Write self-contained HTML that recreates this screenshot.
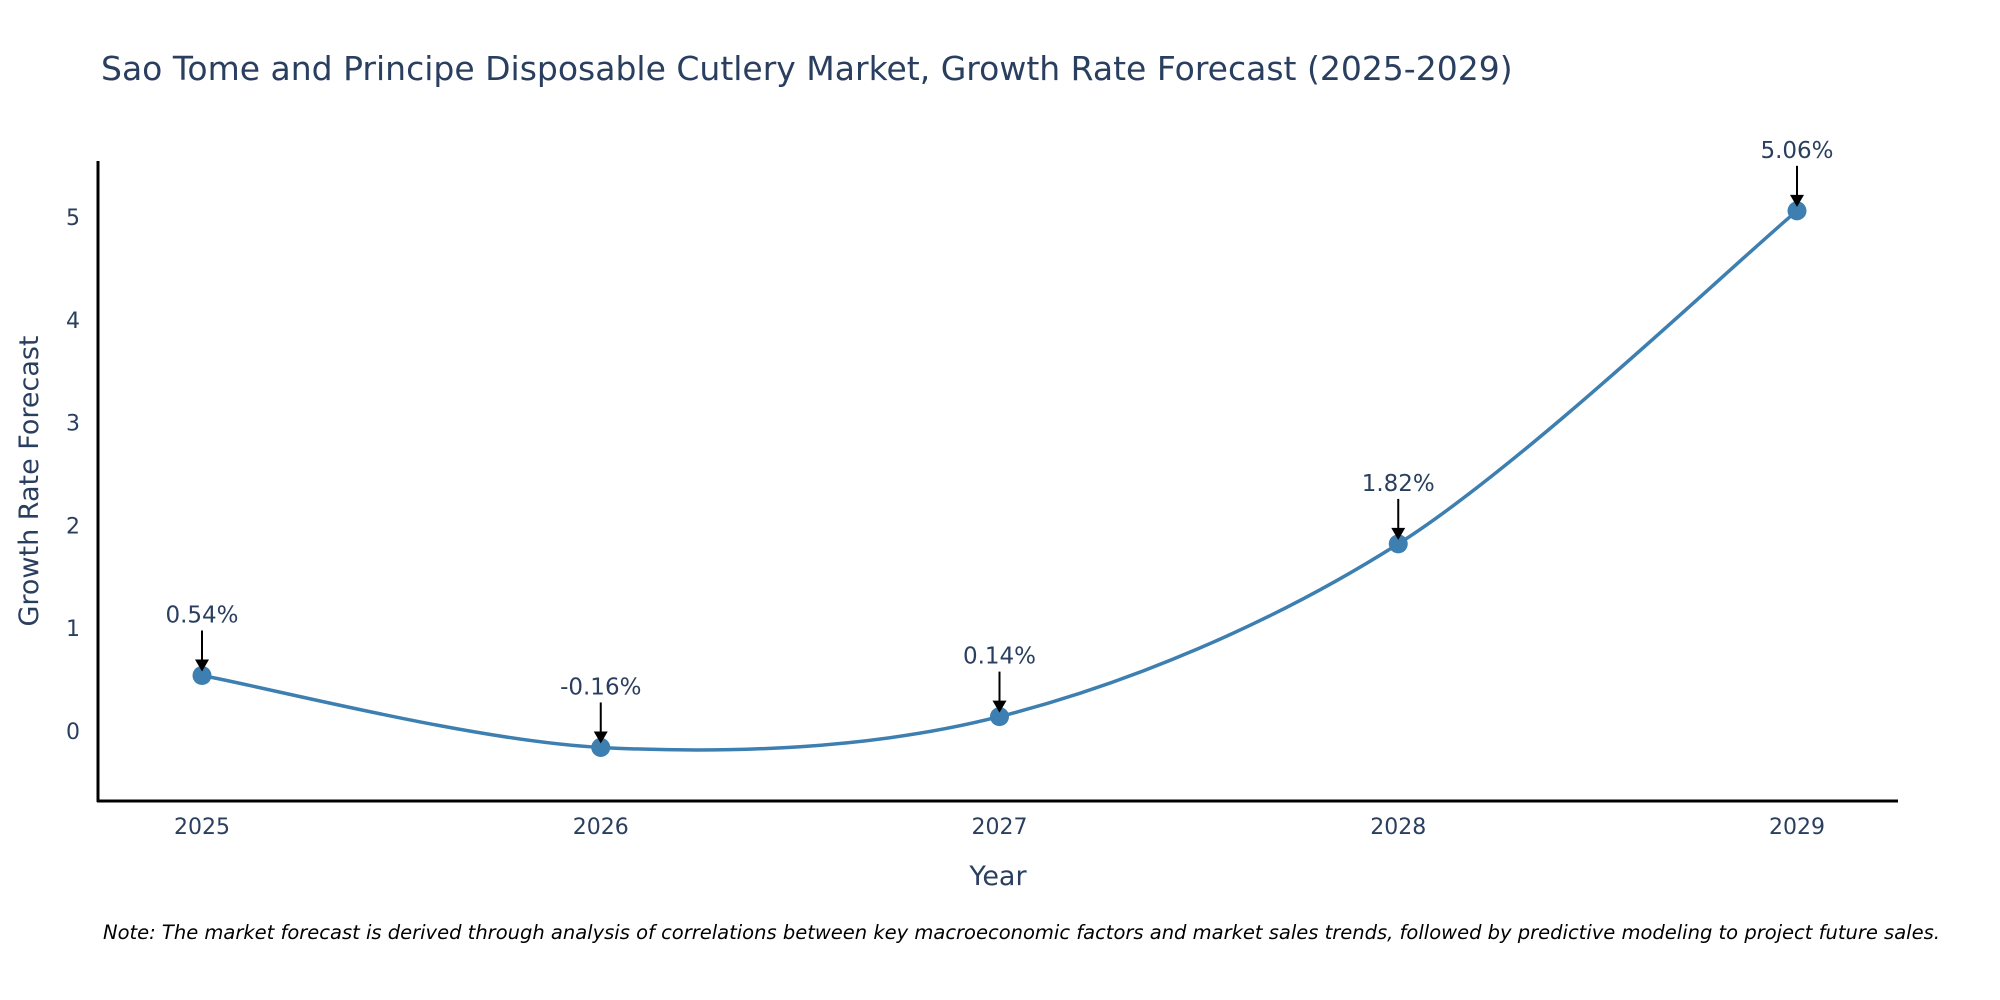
<!DOCTYPE html>
<html><head><meta charset="utf-8"><style>
html,body{margin:0;padding:0;background:#fff;}
svg{display:block;font-family:"DejaVu Sans","Liberation Sans",sans-serif;}
</style></head><body>
<svg id="chart" width="2000" height="1000" viewBox="0 0 2000 1000">
<text x="101" y="80" font-size="33" fill="#2a3f5f">Sao Tome and Principe Disposable Cutlery Market, Growth Rate Forecast (2025-2029)</text>
<g id="yticks"></g>
<g id="xticks"></g>
<line x1="98" y1="161" x2="98" y2="802" stroke="#000" stroke-width="3"/>
<line x1="97" y1="801" x2="1898" y2="801" stroke="#000" stroke-width="3"/>
<path id="line" fill="none" stroke="#3d7fb0" stroke-width="3.5"/>
<g id="points"></g>
<g id="annos"></g>
<text x="998" y="885" font-size="27" fill="#2a3f5f" text-anchor="middle">Year</text>
<text transform="translate(38,481) rotate(-90)" font-size="27" fill="#2a3f5f" text-anchor="middle">Growth Rate Forecast</text>
<text x="103" y="939" font-size="19.5" font-style="italic" fill="#000">Note: The market forecast is derived through analysis of correlations between key macroeconomic factors and market sales trends, followed by predictive modeling to project future sales.</text>
</svg>
<script>
const years = [2025, 2026, 2027, 2028, 2029];
const values = [0.54, -0.16, 0.14, 1.82, 5.06];
const labels = ["0.54%", "-0.16%", "0.14%", "1.82%", "5.06%"];
const yTicks = [0, 1, 2, 3, 4, 5];

const NS = "http://www.w3.org/2000/svg";
function xs(v){ return 202 + (v - 2025) * 398.75; }
function ys(v){ return 731 - v * 102.8; }
function mk(tag, attrs){ const e = document.createElementNS(NS, tag); for (const k in attrs) e.setAttribute(k, attrs[k]); return e; }

const yg = document.getElementById('yticks');
yTicks.forEach(t => {
  const e = mk('text', {x: 80, y: ys(t) + 8, 'font-size': 22, fill: '#2a3f5f', 'text-anchor': 'end'});
  
  
  e.textContent = t; yg.appendChild(e);
});
const xg = document.getElementById('xticks');
years.forEach(t => {
  const e = mk('text', {x: xs(t), y: 834, 'font-size': 22, fill: '#2a3f5f', 'text-anchor': 'middle'});
  
  
  e.textContent = t; xg.appendChild(e);
});

const P = years.map((y, i) => [xs(y), ys(values[i])]);
let d = `M${P[0][0]},${P[0][1]}`;
const s = 0.16;
for (let i = 0; i < P.length - 1; i++) {
  const p0 = P[Math.max(i - 1, 0)], p1 = P[i], p2 = P[i + 1], p3 = P[Math.min(i + 2, P.length - 1)];
  const c1 = [p1[0] + (p2[0] - p0[0]) * s, p1[1] + (p2[1] - p0[1]) * s];
  const c2 = [p2[0] - (p3[0] - p1[0]) * s, p2[1] - (p3[1] - p1[1]) * s];
  d += ` C${c1[0]},${c1[1]} ${c2[0]},${c2[1]} ${p2[0]},${p2[1]}`;
}
document.getElementById('line').setAttribute('d', d);

const pg = document.getElementById('points'), ag = document.getElementById('annos');
P.forEach((p, i) => {
  const c = mk('circle', {cx: p[0], cy: p[1], r: 9.5, fill: '#3d7fb0'});
  
  
  pg.appendChild(c);
  const l = mk('line', {x1: p[0], y1: p[1] - 45, x2: p[0], y2: p[1] - 14, stroke: '#000', 'stroke-width': 2});
  
  
  ag.appendChild(l);
  const h = mk('path', {d: `M${p[0]-7},${p[1]-16} L${p[0]+7},${p[1]-16} L${p[0]},${p[1]-4} Z`, fill: '#000'});
  
  
  ag.appendChild(h);
  const t = mk('text', {x: p[0], y: p[1] - 53, 'font-size': 23, fill: '#2a3f5f', 'text-anchor': 'middle'});
  
  
  t.textContent = labels[i]; ag.appendChild(t);
});
</script>
</body></html>
